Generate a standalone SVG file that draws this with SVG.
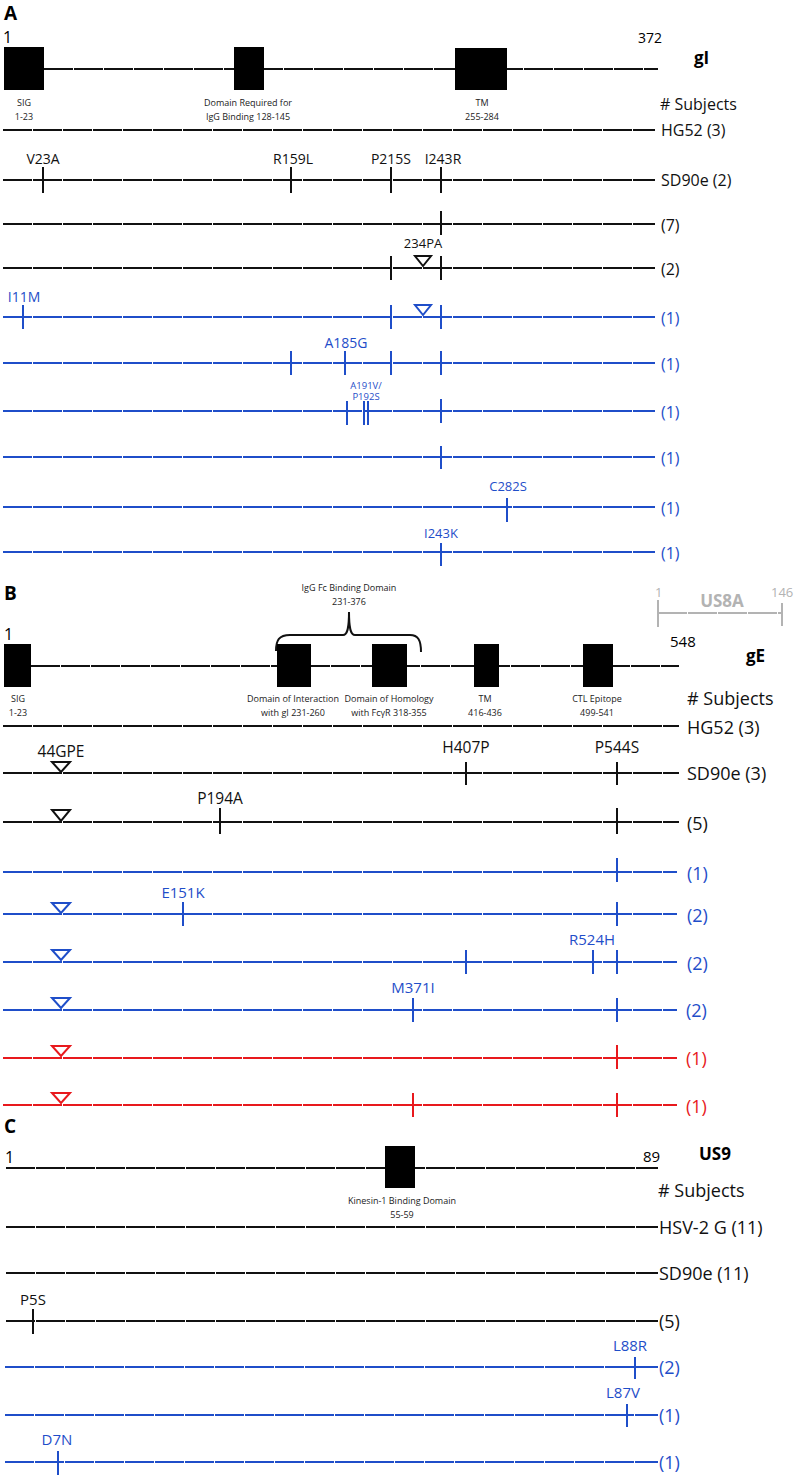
<svg xmlns="http://www.w3.org/2000/svg" width="797" height="1477" viewBox="0 0 797 1477">
<style>
text{font-family:"Open Sans","Noto Sans","Liberation Sans",sans-serif;}
.ln{stroke-width:2;fill:none;stroke-dasharray:29 1;}
.tk{stroke-width:2;fill:none;}
.k{stroke:#111;}
.b{stroke:#1f4ec9;}
.r{stroke:#e8191d;}
.gy{stroke:#b3b3b3;}
.tri{stroke-width:2;fill:#fff;}
.tk_{fill:#111;}
.tb{fill:#1f4ec9;}
.tr{fill:#e8191d;}
.tg{fill:#b3b3b3;}
.box{fill:#000;}
.dom{font-size:9px;fill:#222;text-anchor:middle;}
.hd{font-size:19px;font-weight:bold;fill:#000;}
.gn{font-size:17px;font-weight:bold;fill:#000;}
.mA{font-size:14px;text-anchor:middle;}
.mB{font-size:15.5px;text-anchor:middle;}
.mC{font-size:15px;text-anchor:middle;}
.rA{font-size:16px;}
.rB{font-size:18px;}
.rC{font-size:18px;}
.num{font-size:15px;fill:#000;}
</style>

<!-- ============ Section A: gI ============ -->
<text class="hd" x="4" y="20">A</text>
<g id="gI-map">
  <text class="num" x="3" y="43" style="font-size:16px">1</text>
  <text class="num" x="638" y="43" style="font-size:14px">372</text>
  <text class="gn" x="694" y="64">gI</text>
  <line class="ln k" x1="44" y1="69" x2="658" y2="69"/>
  <rect class="box" x="4" y="47" width="40" height="43"/>
  <rect class="box" x="234" y="47" width="30" height="43"/>
  <rect class="box" x="455" y="48" width="52" height="42"/>
  <text class="dom" x="24" y="106">SIG</text>
  <text class="dom" x="24" y="120">1-23</text>
  <text class="dom" x="248" y="106">Domain Required for</text>
  <text class="dom" x="248" y="120">IgG Binding 128-145</text>
  <text class="dom" x="482" y="106">TM</text>
  <text class="dom" x="482" y="120">255-284</text>
  <text class="rA tk_" x="660" y="110">#  Subjects</text>
</g>
<g id="gI-HG52">
  <line class="ln k" x1="3" y1="130" x2="655" y2="130"/>
  <text class="rA tk_" x="661" y="136">HG52 (3)</text>
</g>
<g id="gI-SD90e">
  <line class="ln k" x1="3" y1="180" x2="655" y2="180"/>
  <path class="tk k" d="M43 167V193M291 167V193M391 167V193M441 167V193"/>
  <text class="mA tk_" x="43" y="164">V23A</text>
  <text class="mA tk_" x="293" y="164">R159L</text>
  <text class="mA tk_" x="391" y="164">P215S</text>
  <text class="mA tk_" x="443" y="164">I243R</text>
  <text class="rA tk_" x="661" y="186">SD90e (2)</text>
</g>
<g id="gI-row7">
  <line class="ln k" x1="3" y1="224" x2="655" y2="224"/>
  <path class="tk k" d="M441 211V235"/>
  <text class="rA tk_" x="661" y="231">(7)</text>
</g>
<g id="gI-row2">
  <line class="ln k" x1="3" y1="268" x2="655" y2="268"/>
  <path class="tk k" d="M391 256V280M441 256V280"/>
  <polygon class="tri k" points="415,256 431,256 423,266"/>
  <text class="mA tk_" x="423" y="248" style="font-size:13px">234PA</text>
  <text class="rA tk_" x="661" y="275">(2)</text>
</g>
<g id="gI-b1">
  <line class="ln b" x1="3" y1="317" x2="655" y2="317"/>
  <path class="tk b" d="M23 305V329M391 305V329M441 305V329"/>
  <polygon class="tri b" points="415,305 431,305 423,315"/>
  <text class="mA tb" x="24" y="302">I11M</text>
  <text class="rA tb" x="661" y="324">(1)</text>
</g>
<g id="gI-b2">
  <line class="ln b" x1="3" y1="363" x2="655" y2="363"/>
  <path class="tk b" d="M291 351V375M345 351V375M391 351V375M441 351V375"/>
  <text class="mA tb" x="346" y="348">A185G</text>
  <text class="rA tb" x="661" y="370">(1)</text>
</g>
<g id="gI-b3">
  <line class="ln b" x1="3" y1="411" x2="655" y2="411"/>
  <path class="tk b" d="M347 401V425M364 401V425M368 401V425M441 399V423"/>
  <text class="tb" x="366" y="400" style="font-size:9.5px;text-anchor:middle"><tspan x="366" y="388.5">A191V/</tspan><tspan x="366" y="400">P192S</tspan></text>
  <text class="rA tb" x="661" y="418">(1)</text>
</g>
<g id="gI-b4">
  <line class="ln b" x1="3" y1="457" x2="655" y2="457"/>
  <path class="tk b" d="M441 446V469"/>
  <text class="rA tb" x="661" y="464">(1)</text>
</g>
<g id="gI-b5">
  <line class="ln b" x1="3" y1="507" x2="655" y2="507"/>
  <path class="tk b" d="M507 498V522"/>
  <text class="mA tb" x="508" y="491" style="font-size:13px">C282S</text>
  <text class="rA tb" x="661" y="514">(1)</text>
</g>
<g id="gI-b6">
  <line class="ln b" x1="3" y1="552" x2="655" y2="552"/>
  <path class="tk b" d="M441 543V566"/>
  <text class="mA tb" x="441" y="538" style="font-size:13px">I243K</text>
  <text class="rA tb" x="661" y="559">(1)</text>
</g>

<!-- ============ Section B: gE ============ -->
<text class="hd" x="4" y="600">B</text>
<g id="US8A">
  <text class="tg" x="655" y="597" style="font-size:13px">1</text>
  <text class="tg" x="722" y="607" style="font-size:17px;font-weight:bold;text-anchor:middle">US8A</text>
  <text class="tg" x="771" y="597" style="font-size:13px">146</text>
  <line class="ln gy" x1="658" y1="613" x2="782" y2="613"/>
  <path class="tk gy" d="M658 600V627M782 603V626"/>
</g>
<g id="gE-map">
  <text class="num" x="4" y="640" style="font-size:16px">1</text>
  <text class="num" x="670" y="647" style="font-size:15px">548</text>
  <text class="gn" x="746" y="662">gE</text>
  <text class="dom" x="349" y="591">IgG Fc Binding Domain</text>
  <text class="dom" x="349" y="605">231-376</text>
  <path class="tk k" d="M276 651C276 640 279 635 290 635H343C347 635 349 630 349 612C349 630 351 635 355 635H410C418 635 421 640 421 652"/>
  <line class="ln k" x1="31" y1="666" x2="679" y2="666"/>
  <rect class="box" x="4" y="644" width="27" height="43"/>
  <rect class="box" x="277" y="644" width="34" height="43"/>
  <rect class="box" x="372" y="644" width="35" height="43"/>
  <rect class="box" x="474" y="644" width="25" height="43"/>
  <rect class="box" x="583" y="644" width="30" height="43"/>
  <text class="dom" x="18" y="702">SIG</text>
  <text class="dom" x="18" y="716">1-23</text>
  <text class="dom" x="293" y="702">Domain of Interaction</text>
  <text class="dom" x="293" y="716">with gI 231-260</text>
  <text class="dom" x="389" y="702">Domain of Homology</text>
  <text class="dom" x="389" y="716">with FcγR 318-355</text>
  <text class="dom" x="485" y="702">TM</text>
  <text class="dom" x="485" y="716">416-436</text>
  <text class="dom" x="597" y="702">CTL Epitope</text>
  <text class="dom" x="597" y="716">499-541</text>
  <text class="rB tk_" x="687" y="705">#  Subjects</text>
</g>
<g id="gE-HG52">
  <line class="ln k" x1="3" y1="726" x2="679" y2="726"/>
  <text class="rB tk_" x="687" y="734">HG52 (3)</text>
</g>
<g id="gE-SD90e">
  <line class="ln k" x1="3" y1="773" x2="679" y2="773"/>
  <polygon class="tri k" points="52,762 70,762 61,772"/>
  <path class="tk k" d="M466 762V785M617 762V785"/>
  <text class="mB tk_" x="61" y="757">44GPE</text>
  <text class="mB tk_" x="466" y="753">H407P</text>
  <text class="mB tk_" x="617" y="753">P544S</text>
  <text class="rB tk_" x="687" y="780">SD90e (3)</text>
</g>
<g id="gE-row5">
  <line class="ln k" x1="3" y1="822" x2="679" y2="822"/>
  <polygon class="tri k" points="52,810 70,810 61,821"/>
  <path class="tk k" d="M220 808V834M617 808V834"/>
  <text class="mB tk_" x="220" y="804">P194A</text>
  <text class="rB tk_" x="687" y="830">(5)</text>
</g>
<g id="gE-b1">
  <line class="ln b" x1="3" y1="872" x2="677" y2="872"/>
  <path class="tk b" d="M617 858V882"/>
  <text class="rB tb" x="687" y="880">(1)</text>
</g>
<g id="gE-b2">
  <line class="ln b" x1="3" y1="914" x2="677" y2="914"/>
  <polygon class="tri b" points="52,903 70,903 61,913"/>
  <path class="tk b" d="M183 902V926M617 902V926"/>
  <text class="mB tb" x="183" y="898" style="font-size:15px">E151K</text>
  <text class="rB tb" x="687" y="922">(2)</text>
</g>
<g id="gE-b3">
  <line class="ln b" x1="3" y1="962" x2="677" y2="962"/>
  <polygon class="tri b" points="52,950 70,950 61,960"/>
  <path class="tk b" d="M466 950V974M593 950V974M617 950V974"/>
  <text class="mB tb" x="592" y="945" style="font-size:15px">R524H</text>
  <text class="rB tb" x="687" y="970">(2)</text>
</g>
<g id="gE-b4">
  <line class="ln b" x1="3" y1="1010" x2="677" y2="1010"/>
  <polygon class="tri b" points="52,998 70,998 61,1008"/>
  <path class="tk b" d="M413 998V1022M617 998V1022"/>
  <text class="mB tb" x="413" y="993" style="font-size:15px">M371I</text>
  <text class="rB tb" x="686" y="1017">(2)</text>
</g>
<g id="gE-r1">
  <line class="ln r" x1="3" y1="1058" x2="677" y2="1058"/>
  <polygon class="tri r" points="52,1046 70,1046 61,1056"/>
  <path class="tk r" d="M617 1045V1069"/>
  <text class="rB tr" x="686" y="1065">(1)</text>
</g>
<g id="gE-r2">
  <line class="ln r" x1="3" y1="1105" x2="677" y2="1105"/>
  <polygon class="tri r" points="52,1093 70,1093 61,1103"/>
  <path class="tk r" d="M413 1093V1117M617 1093V1117"/>
  <text class="rB tr" x="686" y="1113">(1)</text>
</g>

<!-- ============ Section C: US9 ============ -->
<text class="hd" x="4" y="1133">C</text>
<g id="US9-map">
  <text class="num" x="5" y="1163" style="font-size:16px">1</text>
  <text class="num" x="643" y="1162" style="font-size:15px">89</text>
  <text class="gn" x="699" y="1160">US9</text>
  <line class="ln k" x1="6" y1="1168" x2="658" y2="1168"/>
  <rect class="box" x="385" y="1146" width="30" height="42"/>
  <text class="dom" x="402" y="1204">Kinesin-1 Binding Domain</text>
  <text class="dom" x="402" y="1218">55-59</text>
  <text class="rC tk_" x="658" y="1197">#  Subjects</text>
</g>
<g id="US9-HSV2G">
  <line class="ln k" x1="6" y1="1227" x2="658" y2="1227"/>
  <text class="rC tk_" x="659" y="1234">HSV-2 G (11)</text>
</g>
<g id="US9-SD90e">
  <line class="ln k" x1="6" y1="1273" x2="658" y2="1273"/>
  <text class="rC tk_" x="659" y="1280">SD90e (11)</text>
</g>
<g id="US9-row5">
  <line class="ln k" x1="6" y1="1321" x2="658" y2="1321"/>
  <path class="tk k" d="M33 1309V1334"/>
  <text class="mC tk_" x="33" y="1305">P5S</text>
  <text class="rC tk_" x="659" y="1328">(5)</text>
</g>
<g id="US9-b1">
  <line class="ln b" x1="5" y1="1367" x2="658" y2="1367"/>
  <path class="tk b" d="M635 1357V1379"/>
  <text class="mC tb" x="630" y="1351">L88R</text>
  <text class="rC tb" x="659" y="1374">(2)</text>
</g>
<g id="US9-b2">
  <line class="ln b" x1="5" y1="1415" x2="658" y2="1415"/>
  <path class="tk b" d="M627 1404V1427"/>
  <text class="mC tb" x="623" y="1398">L87V</text>
  <text class="rC tb" x="659" y="1422">(1)</text>
</g>
<g id="US9-b3">
  <line class="ln b" x1="5" y1="1462" x2="658" y2="1462"/>
  <path class="tk b" d="M58 1451V1475"/>
  <text class="mC tb" x="57" y="1445">D7N</text>
  <text class="rC tb" x="659" y="1469">(1)</text>
</g>
</svg>
